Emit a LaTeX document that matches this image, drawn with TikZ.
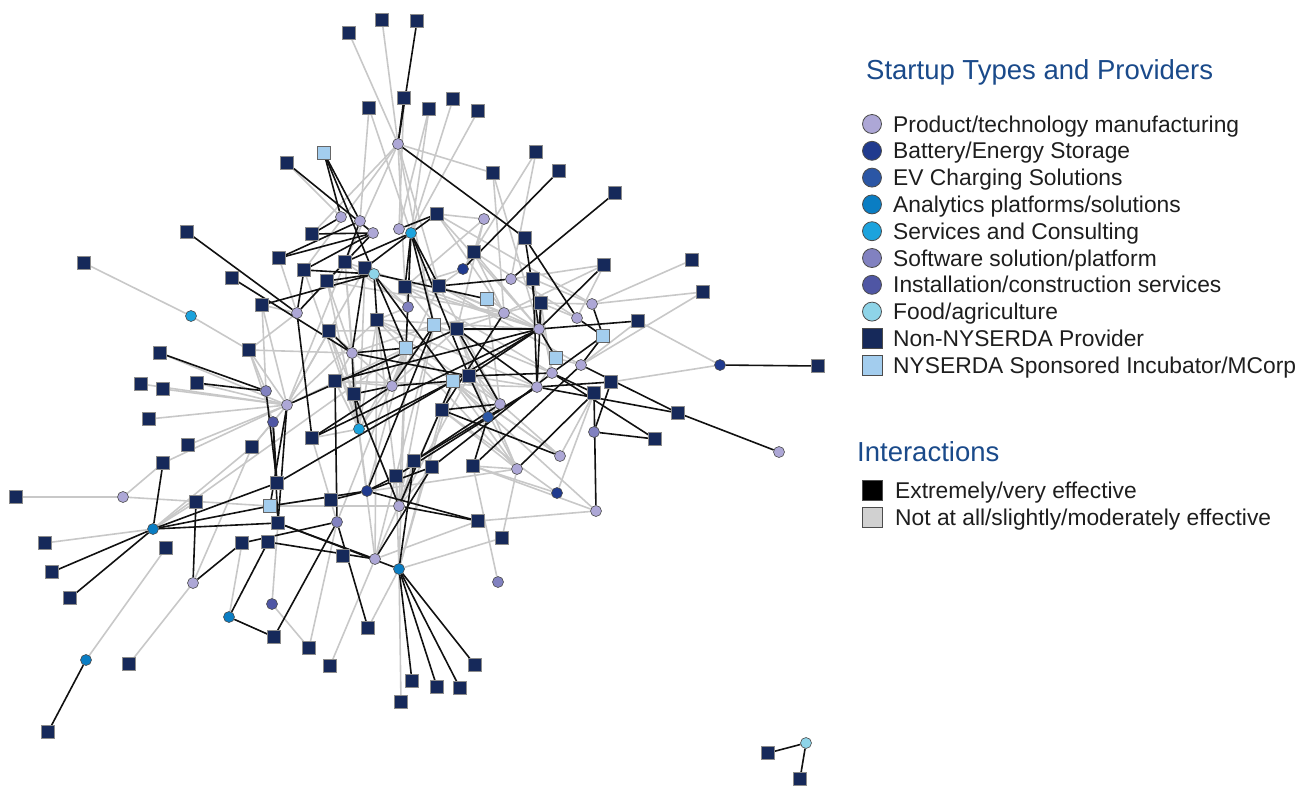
\documentclass[tikz,border=0pt]{standalone}
\usepackage{fontspec}
\setmainfont{Liberation Sans}
\pgfdeclarelayer{edges}
\pgfsetlayers{edges,main}
\definecolor{cPM}{HTML}{ADA7D6}
\definecolor{cBat}{HTML}{203A8E}
\definecolor{cEV}{HTML}{2B56A5}
\definecolor{cAna}{HTML}{0A7DC3}
\definecolor{cSvc}{HTML}{1CA3DD}
\definecolor{cSW}{HTML}{8181C0}
\definecolor{cIns}{HTML}{4F56A4}
\definecolor{cFood}{HTML}{8ED4E8}
\definecolor{cNP}{HTML}{16295A}
\definecolor{cNY}{HTML}{A3CDEE}
\definecolor{cHi}{HTML}{111111}
\definecolor{cLo}{HTML}{C8C8C8}
\definecolor{cTitle}{HTML}{1A4A8A}
\definecolor{cTxt}{HTML}{1E1E1E}
\tikzset{
  dot/.style={circle,draw=black!70,line width=0.6pt,inner sep=0pt,minimum size=11pt},
  box/.style={rectangle,draw=black!45,line width=0.7pt,inner sep=0pt,minimum size=12.5pt},
  pm/.style={dot,fill=cPM}, bat/.style={dot,fill=cBat}, ev/.style={dot,fill=cEV},
  ana/.style={dot,fill=cAna}, svc/.style={dot,fill=cSvc}, sw/.style={dot,fill=cSW},
  ins/.style={dot,fill=cIns}, food/.style={dot,fill=cFood},
  np/.style={box,fill=cNP}, ny/.style={box,fill=cNY,draw=black!60},
  hi/.style={draw=cHi,line width=1.6pt},
  lo/.style={draw=cLo,line width=1.6pt},
  keydot/.style={circle,draw=black!70,line width=0.8pt,inner sep=0pt,minimum size=19pt},
  keybox/.style={rectangle,draw=black!70,line width=0.8pt,inner sep=0pt,minimum size=20pt},
  keytext/.style={anchor=base west,inner sep=0pt,text=cTxt,font=\fontsize{22.8}{26}\selectfont},
  keytitle/.style={anchor=base west,inner sep=0pt,text=cTitle,font=\fontsize{27.5}{31}\selectfont}
}
\begin{document}
\begin{tikzpicture}[x=1pt,y=-1pt]
\useasboundingbox (0,0) rectangle (1304,785);

% providers outside NYSERDA
\foreach \n/\x/\y in {n1/349/33, n2/382/20, n3/417/21, n4/404/98, n5/369/108, n6/429/109,
  n7/453/99, n8/478/111, n9/287/163, n10/536/152, n11/493/173, n12/559/171, n13/615/193,
  n14/187/232, n15/437/214, n16/525/238, n17/474/252, n18/312/234, n19/279/258, n20/345/262,
  n21/692/260, n22/604/265, n23/84/263, n24/232/278, n25/262/305, n26/304/270, n27/365/268,
  n28/327/281, n29/405/287, n30/439/286, n31/533/279, n32/703/292, n33/541/303, n34/638/321,
  n35/377/320, n36/457/329, n37/329/331, n38/249/350, n39/160/353, n40/818/366, n41/469/376,
  n42/611/382, n43/141/384, n44/163/389, n45/197/383, n46/335/381, n47/594/393, n48/354/394,
  n49/442/410, n50/678/413, n51/149/419, n52/655/439, n53/312/438, n54/188/445, n55/252/447,
  n56/414/461, n57/163/463, n58/432/467, n59/473/466, n60/396/476, n61/277/483, n62/16/497,
  n63/331/500, n64/196/502, n65/478/521, n66/278/523, n67/502/538, n68/45/543, n69/242/543,
  n70/268/542, n71/166/548, n72/343/556, n73/52/572, n74/70/598, n75/368/628, n76/274/637,
  n77/309/648, n78/129/664, n79/475/665, n80/330/666, n81/412/681, n82/437/687, n83/460/688,
  n84/401/702, n85/48/732, n86/768/753, n87/800/779}
  \node[np] (\n) at (\x,\y) {};

% NYSERDA sponsored incubators
\foreach \n/\x/\y in {y1/324/153, y2/487/299, y3/434/325, y4/603/336, y5/406/348,
  y6/556/358, y7/453/381, y8/270/506}
  \node[ny] (\n) at (\x,\y) {};

% startups
\foreach \n/\x/\y in {p1/398/144, p2/341/217, p3/360/221, p4/373/233, p5/399/229, p6/484/219,
  p7/511/279, p8/592/304, p9/297/313, p10/504/313, p11/577/318, p12/539/329, p13/352/353,
  p14/581/365, p15/552/373, p16/392/386, p17/537/387, p18/287/405, p19/500/404, p20/779/452,
  p21/560/456, p22/517/469, p23/123/497, p24/399/506, p25/596/511, p26/375/559, p27/193/583}
  \node[pm] (\n) at (\x,\y) {};
\foreach \n/\x/\y in {b1/463/269, b2/720/365, b3/367/491, b4/557/493}
  \node[bat] (\n) at (\x,\y) {};
\node[ev] (e1) at (488,417) {};
\foreach \n/\x/\y in {a1/153/529, a2/399/569, a3/229/617, a4/86/660}
  \node[ana] (\n) at (\x,\y) {};
\foreach \n/\x/\y in {s1/411/233, s2/191/316, s3/359/429}
  \node[svc] (\n) at (\x,\y) {};
\foreach \n/\x/\y in {w1/408/307, w2/266/391, w3/594/432, w4/337/522, w5/498/582}
  \node[sw] (\n) at (\x,\y) {};
\foreach \n/\x/\y in {i1/273/422, i2/272/604}
  \node[ins] (\n) at (\x,\y) {};
\foreach \n/\x/\y in {f1/374/274, f2/806/743}
  \node[food] (\n) at (\x,\y) {};

\begin{pgfonlayer}{edges}
% interactions rated not at all / slightly / moderately effective
\foreach \a/\b in {n1/p1, n2/p1, n5/s1, n6/s1, n7/s1, n8/s1, p1/n11, p1/n18, p1/n26, p1/n29,
  p1/n20, p1/y3, p1/n30, n10/b1, n11/p10, p6/n17, p6/n29, p6/n15, p6/n36, n23/s2, s2/n38,
  n25/w2, n38/w2, n43/p18, n44/p18, n45/p18, n51/p18, n54/p18, n55/p18, n38/p18, n39/p18,
  p18/n57, p23/n62, p23/n57, p23/y8, a1/n68, a1/n55, a1/n64, n71/a4, p27/n78, p27/n55,
  a3/n69, i2/n66, i2/n77, n77/w4, n80/p26, a2/n84, a2/n75, p26/n65, a2/n67, w5/n59, n67/p22,
  n21/p8, n32/p8, n34/b2, b2/n42, n22/p10, n22/p7, b4/n47, b4/n59, p25/n65, p21/n47,
  p12/n15, p12/n17, p12/n30, p12/y2, p12/n29, p12/n11, p10/n15, p10/n17, p10/n30, p10/y3,
  p10/n36, p10/n33, p7/n10, b1/n30, b1/n29, w1/n27, w1/n29, w1/n35, p13/n28, p13/n20,
  p13/n38, p13/y3, p13/n46, p9/n19, p9/n25, p9/n38, p9/n20, p16/n46, p16/y5, p16/n36,
  p16/n37, s3/n37, s3/n35, s3/n27, s3/n28, s3/y5, s3/n46, s3/n53, s3/n26, p24/n56, p24/y5,
  p24/n35, p24/n58, p24/y3, p22/n59, p22/n49, p22/y7, p22/n41, p19/y2, p19/n30, p17/y6,
  p17/n41, p15/n33, p15/n31, p14/n34, p14/y6, p11/n33, p11/n22, p8/n31, p8/n33, e1/y7,
  e1/n36, b3/n48, w4/n53, p26/n48, p26/y7, i1/n38, i1/n55, p18/n25, p18/n37, p18/y5,
  p18/n35, y8/p24, a2/y5, a2/n60, a2/n49, p5/n4, p5/n6, p2/n9, p3/n5, p14/n32,
  p12/n37, p12/n35, p12/n20, p10/n28, p15/n29, p17/n35, p22/n36, p21/y7, b4/n49, p25/n59,
  p24/n41, p19/n29, s3/n20, p18/n27, p18/n36, w4/y5, p26/n35, a2/y7, y8/p22, p21/n41,
  p11/n17, p8/n15, p15/y3, p14/n30, p19/n35, p17/n46, p16/n30, s3/y3, w1/n20, p24/n37,
  b3/y5, p22/n35, p21/y5, p26/y3, p25/y7, a1/y5, p18/n20}
  \draw[lo] (\a) -- (\b);
% interactions rated extremely / very effective
\foreach \a/\b in {n3/p1, n4/p1, p1/n16, y1/p2, y1/p3, y1/f1, n9/p4, n14/p9, n12/b1, n13/p7,
  n15/s1, n16/p12, n16/p11, n24/p13, n25/f1, n39/w2, n45/w2, n57/a1, n64/p27, a1/n73,
  a1/n74, a1/n66, a1/y8, a1/n61, a4/n85, p27/n69, a3/n70, a3/n76, n76/w4, w4/n75, a2/n81,
  a2/n82, a2/n83, a2/n79, a2/n66, p26/n66, a2/n56, p26/n58, n22/p12, n34/p12, b2/n40,
  p8/y4, y4/p14, y4/p15, p14/n50, p15/n52, w3/n52, n47/p25, w3/n42, n50/p20, n50/p17,
  n49/p21, n33/p12, n33/p17, n31/p17, n36/p12, n36/p19, n36/p17, y2/f1, p7/n30, s1/n30,
  s1/n29, f1/n35, f1/n26, f1/n28, f1/y5, f1/y7, p4/n18, p4/n19, p4/n26, p4/n28, p3/n20,
  s1/n20, s1/n27, s1/y3, s1/n41, p13/y5, p13/n48, p13/n27, p13/n37, p9/n26, p9/n53,
  p16/y7, p16/n48, p16/n35, s3/n48, s3/y7, n46/w4, n48/p24, b3/n63, b3/n60, b3/y8, b3/n65,
  b3/n58, n56/p17, n59/p14, n41/p12, y7/p12, n41/p15, e1/n41, n49/p19, p11/y4, w2/n61,
  i1/n66, i1/n61, p18/y8, p18/n66, n69/w4, n70/p26, p2/n18, p3/n19, p5/n15, p9/n28,
  y3/p16, y6/p12, n53/p16, n42/p17, n47/p15, e1/n59, n65/p24, f2/n86, f2/n87,
  p12/n46, p17/n60, p15/n58, y7/n61, n36/p18, p13/n41, p10/n49, y3/b3, s1/y5, n47/p22,
  p19/n56, y7/p24, p12/n53}
  \draw[hi] (\a) -- (\b);
\end{pgfonlayer}

% key
\node[keytitle] (kt1) at (866,79) {Startup Types and Providers};
\foreach \i/\st/\lab in {0/cPM/Product\slash technology manufacturing,
  1/cBat/Battery\slash Energy Storage, 2/cEV/EV Charging Solutions,
  3/cAna/Analytics platforms\slash solutions, 4/cSvc/Services and Consulting,
  5/cSW/Software solution\slash platform, 6/cIns/Installation\slash construction services,
  7/cFood/Food\slash agriculture}
{
  \node[keydot,fill=\st] (kd\i) at (872,{124+26.8*\i}) {};
  \node[keytext] (kl\i) at (893,{132+26.8*\i}) {\lab};
}
\node[keybox,fill=cNP] (kd8) at (872,338.4) {};
\node[keytext] (kl8) at (893,346.4) {Non-NYSERDA Provider};
\node[keybox,fill=cNY] (kd9) at (872,365.2) {};
\node[keytext] (kl9) at (893,373.2) {NYSERDA Sponsored Incubator/MCorp};

\node[keytitle] (kt2) at (857,461) {Interactions};
\node[keybox,fill=black] (ke1) at (872,490) {};
\node[keytext] (ke1l) at (895,498) {Extremely/very effective};
\node[keybox,fill=black!18] (ke2) at (872,517) {};
\node[keytext] (ke2l) at (895,525) {Not at all/slightly/moderately effective};
\end{tikzpicture}
\end{document}
